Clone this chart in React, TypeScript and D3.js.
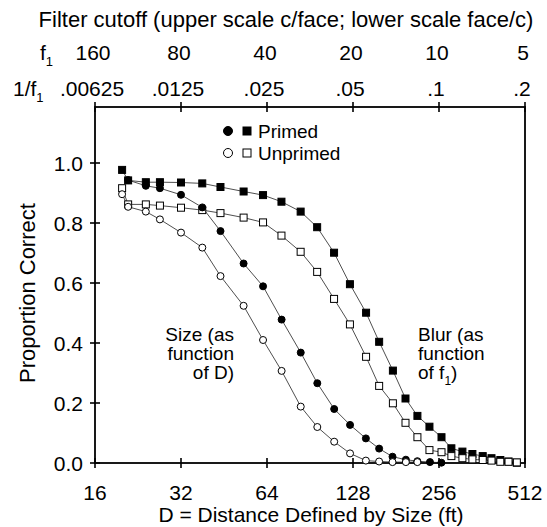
import React from "react";
import * as d3 from "d3";

// ---------- data ----------
const distanceTicks = [16, 32, 64, 128, 256, 512];
const f1Ticks = [160, 80, 40, 20, 10, 5];
const f1TickLabels = ["160", "80", "40", "20", "10", "5"];
const invF1TickLabels = [".00625", ".0125", ".025", ".05", ".1", ".2"];
const yTicks = [0, 0.2, 0.4, 0.6, 0.8, 1.0];

// Size series (x = D, ft)
const sizePrimedD = [20.9, 24.1, 27, 32, 38, 44, 53, 62, 72, 84, 96, 110, 125, 142, 158, 176, 196, 215, 238, 261];
const sizePrimedP = [0.943, 0.924, 0.916, 0.894, 0.852, 0.773, 0.665, 0.589, 0.478, 0.368, 0.266, 0.18, 0.127, 0.082, 0.048, 0.021, 0.011, 0.006, 0.003, 0.001];
const sizeUnprimedD = [19.9, 20.9, 24.1, 27, 32, 38, 44, 53, 62, 72, 84, 96, 110, 125, 142, 158, 176, 196, 215];
const sizeUnprimedP = [0.896, 0.854, 0.838, 0.812, 0.768, 0.718, 0.623, 0.524, 0.41, 0.307, 0.188, 0.12, 0.071, 0.032, 0.008, 0.005, 0.003, 0.003, 0.003];

// Blur series (x = f1, c/face)
const blurF1 = [128.6, 122.5, 106.2, 94.8, 80, 67.4, 58.2, 48.3, 41.3, 35.6, 30.5, 26.7, 23.3, 20.5, 18.0, 16.2, 14.5, 13.1, 11.9, 10.8, 9.8, 9.05, 8.28, 7.64, 7.03, 6.55, 6.1, 5.71, 5.34];
const blurPrimedP = [0.977, 0.942, 0.936, 0.936, 0.935, 0.932, 0.92, 0.905, 0.893, 0.871, 0.838, 0.786, 0.701, 0.596, 0.501, 0.404, 0.308, 0.215, 0.157, 0.121, 0.086, 0.049, 0.038, 0.03, 0.023, 0.016, 0.01, 0.005, 0.001];
const blurUnprimedP = [0.916, 0.862, 0.862, 0.858, 0.851, 0.843, 0.833, 0.818, 0.802, 0.758, 0.704, 0.637, 0.547, 0.462, 0.354, 0.257, 0.199, 0.134, 0.086, 0.043, 0.036, 0.023, 0.016, 0.012, 0.01, 0.008, 0.004, 0.004, 0.002];

// ---------- layout ----------
const W = 547;
const H = 527;
const left = 95;
const right = 525;
const top = 107;
const bottom = 463;
const FONT = "'Liberation Sans', Arial, Helvetica, sans-serif";
const FS = 19; // legend & annotations
const FT = 21; // tick labels & axis titles

const x = d3.scaleLog().base(2).domain([16, 512]).range([left, right]);
const xTop = d3.scaleLog().base(2).domain([160, 5]).range([left, right]);
const y = d3.scaleLinear().domain([0, 1]).range([bottom, 163]);

const line = d3.line<[number, number]>().x((d) => d[0]).y((d) => d[1]);

function pts(xs: number[], ps: number[], sx: (v: number) => number): [number, number][] {
  return xs.map((v, i) => [sx(v), y(ps[i])] as [number, number]);
}

const series = [
  { key: "blurPrimed", points: pts(blurF1, blurPrimedP, xTop), shape: "square", filled: true },
  { key: "blurUnprimed", points: pts(blurF1, blurUnprimedP, xTop), shape: "square", filled: false },
  { key: "sizePrimed", points: pts(sizePrimedD, sizePrimedP, x), shape: "circle", filled: true },
  { key: "sizeUnprimed", points: pts(sizeUnprimedD, sizeUnprimedP, x), shape: "circle", filled: false },
];

function Marker({ cx, cy, shape, filled, size }: { cx: number; cy: number; shape: string; filled: boolean; size: number }) {
  const fill = filled ? "#000" : "#fff";
  if (shape === "circle") {
    return <circle cx={cx} cy={cy} r={size / 2} fill={fill} stroke="#000" strokeWidth={1} />;
  }
  return <rect x={cx - size / 2} y={cy - size / 2} width={size} height={size} fill={fill} stroke="#000" strokeWidth={1} />;
}

export default function App() {
  return (
    <svg
      width={W}
      height={H}
      viewBox={`0 0 ${W} ${H}`}
      style={{ position: "absolute", left: 0, top: 0, background: "#fff" }}
      fontFamily={FONT}
    >
      <rect x={0} y={0} width={W} height={H} fill="#fff" />

      {/* top titles */}
      <text x={286} y={27} fontSize={22} textAnchor="middle" fill="#000">
        Filter cutoff (upper scale c/face; lower scale face/c)
      </text>
      <text x={40} y={60} fontSize={FT} fill="#000">
        f<tspan fontSize={13} dy={6}>1</tspan>
      </text>
      <text x={13} y={96} fontSize={FT} fill="#000">
        1/f<tspan fontSize={13} dy={6}>1</tspan>
      </text>
      {f1Ticks.map((t, i) => (
        <text key={"f" + t} x={xTop(t) - 2} y={60} fontSize={FT} textAnchor="middle" fill="#000">
          {f1TickLabels[i]}
        </text>
      ))}
      {f1Ticks.map((t, i) => (
        <text key={"if" + t} x={xTop(t) - 3} y={96} fontSize={FT} textAnchor="middle" fill="#000">
          {invF1TickLabels[i]}
        </text>
      ))}

      {/* frame */}
      <rect x={left} y={top} width={right - left} height={bottom - top} fill="none" stroke="#000" strokeWidth={1.8} />

      {/* top ticks */}
      {f1Ticks.map((t) => (
        <line key={"tt" + t} x1={xTop(t)} x2={xTop(t)} y1={top - 5} y2={top + 5} stroke="#000" strokeWidth={1.6} />
      ))}
      {/* bottom ticks */}
      {distanceTicks.map((t) => (
        <g key={"bt" + t}>
          <line x1={x(t)} x2={x(t)} y1={bottom - 5} y2={bottom + 5} stroke="#000" strokeWidth={1.6} />
          <text x={x(t)} y={500} fontSize={FT} textAnchor="middle" fill="#000">
            {t}
          </text>
        </g>
      ))}
      {/* y ticks */}
      {yTicks.map((t) => (
        <g key={"yt" + t}>
          <line x1={left - 5} x2={left + 5} y1={y(t)} y2={y(t)} stroke="#000" strokeWidth={1.6} />
          <text x={83} y={y(t) + 7.5} fontSize={FT} textAnchor="end" fill="#000">
            {t.toFixed(1)}
          </text>
        </g>
      ))}

      {/* axis titles */}
      <text x={311} y={522} fontSize={FT} textAnchor="middle" fill="#000">
        D = Distance Defined by Size (ft)
      </text>
      <text transform={`translate(35,293) rotate(-90)`} fontSize={22} textAnchor="middle" fill="#000">
        Proportion Correct
      </text>

      {/* lines */}
      {series.map((s) => (
        <path key={"l" + s.key} d={line(s.points) || ""} fill="none" stroke="#222" strokeWidth={0.8} />
      ))}
      {/* markers */}
      {series.map((s) => (
        <g key={"m" + s.key}>
          {s.points.map((p, i) => (
            <Marker key={i} cx={p[0]} cy={p[1]} shape={s.shape} filled={s.filled} size={s.shape === "circle" ? 7 : 7} />
          ))}
        </g>
      ))}

      {/* legend */}
      <Marker cx={228} cy={131} shape="circle" filled={true} size={9} />
      <Marker cx={247} cy={131} shape="square" filled={true} size={8} />
      <text x={258} y={138} fontSize={FS} fill="#000">Primed</text>
      <Marker cx={228} cy={153} shape="circle" filled={false} size={9} />
      <Marker cx={247} cy={153} shape="square" filled={false} size={8} />
      <text x={258} y={160} fontSize={FS} fill="#000">Unprimed</text>

      {/* annotations */}
      <text fontSize={FS} textAnchor="end" fill="#000">
        <tspan x={234} y={341}>Size (as</tspan>
        <tspan x={234} y={360}>function</tspan>
        <tspan x={234} y={379}>of D)</tspan>
      </text>
      <text fontSize={FS} fill="#000">
        <tspan x={418} y={341}>Blur (as</tspan>
        <tspan x={418} y={360}>function</tspan>
        <tspan x={418} y={379}>of f</tspan>
        <tspan fontSize={12} dy={6}>1</tspan>
        <tspan dy={-6}>)</tspan>
      </text>
    </svg>
  );
}
